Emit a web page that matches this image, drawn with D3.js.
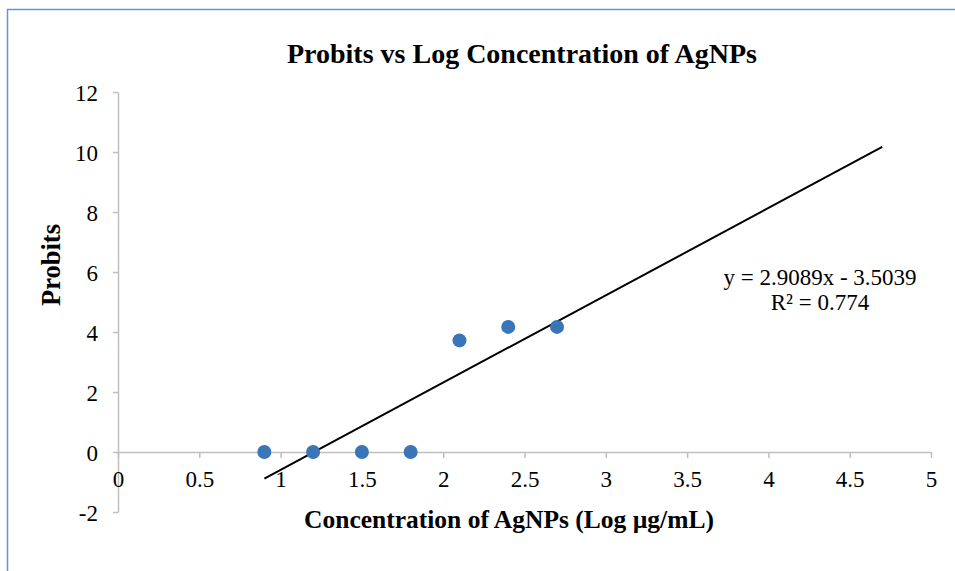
<!DOCTYPE html>
<html>
<head>
<meta charset="utf-8">
<script src="https://cdn.jsdelivr.net/npm/d3@7"></script>
<style>
  body { margin: 0; background: #fff; }
  svg { display: block; font-family: "Liberation Serif", "Times New Roman", serif; }
</style>
</head>
<body>
<svg id="chart" width="955" height="571"></svg>
<script>
// data
let logConc = [0.9, 1.2, 1.5, 1.8, 2.1, 2.4, 2.7];
let probits = [0, 0, 0, 0, 3.72, 4.17, 4.17];
let xTicks = [0, 0.5, 1, 1.5, 2, 2.5, 3, 3.5, 4, 4.5, 5];
let yTicks = [-2, 0, 2, 4, 6, 8, 10, 12];
// trendline from the printed equation, drawn over 0.9 .. 4.7
let slope = 2.9089, intercept = -3.5039;
let trendRange = [0.9, 4.7];

let svg = d3.select("#chart"),
    margin = {top: 92, right: 24, bottom: 59, left: 118},
    width = 955 - margin.left - margin.right,
    height = 571 - margin.top - margin.bottom;

let x = d3.scaleLinear().domain([0, 5]).range([0, width]),
    y = d3.scaleLinear().domain([-2, 12]).range([height, 0]);

let serif = "'Liberation Serif', 'Times New Roman', serif";

// outer frame (top + left edges visible)
svg.append("path")
  .attr("d", "M7.5,571 V9.5 H955")
  .attr("fill", "none")
  .attr("stroke", "#5b9bd5")
  .attr("stroke-width", 1.5);

let g = svg.append("g").attr("transform", "translate(" + margin.left + "," + margin.top + ")");

let gray = "#bfbfbf";

// y axis
let yAxis = g.append("g")
  .call(d3.axisLeft(y).tickValues(yTicks).tickSize(5).tickSizeOuter(0).tickFormat(d => String(d)))
  .attr("font-family", serif);
yAxis.select(".domain").attr("stroke", gray).attr("stroke-width", 1.5);
yAxis.selectAll(".tick line").attr("stroke", gray).attr("stroke-width", 1.5);
yAxis.selectAll(".tick text")
  .attr("x", -20)
  .attr("dy", "0.35em")
  .style("font-size", "23px")
  .attr("fill", "#000");

// x axis sits on y = 0
let xAxis = g.append("g")
  .attr("transform", "translate(0," + y(0) + ")")
  .call(d3.axisBottom(x).tickValues(xTicks).tickSize(6).tickSizeOuter(0).tickFormat(d => String(d)))
  .attr("font-family", serif);
xAxis.select(".domain").attr("stroke", gray).attr("stroke-width", 1.5);
xAxis.selectAll(".tick line").attr("stroke", gray).attr("stroke-width", 1.5);
xAxis.selectAll(".tick text")
  .attr("y", 19)
  .attr("dy", "0.71em")
  .style("font-size", "23px")
  .attr("fill", "#000");

// trendline
let line = d3.line()
  .x(d => x(d))
  .y(d => y(slope * d + intercept));

g.append("path")
  .datum(trendRange)
  .attr("d", line)
  .attr("fill", "none")
  .attr("stroke", "#000")
  .attr("stroke-width", 2);

// points
g.selectAll(".dot")
  .data(logConc.map((v, i) => ({x: v, y: probits[i]})))
  .enter()
  .append("circle")
  .attr("class", "dot")
  .attr("cx", d => x(d.x))
  .attr("cy", d => y(d.y))
  .attr("r", 7)
  .attr("fill", "#3a75b8");

// title
svg.append("text")
  .attr("x", 522)
  .attr("y", 63)
  .attr("text-anchor", "middle")
  .style("font-size", "28px")
  .style("font-weight", "bold")
  .text("Probits vs Log Concentration of AgNPs");

// axis titles
svg.append("text")
  .attr("x", 509)
  .attr("y", 528)
  .attr("text-anchor", "middle")
  .style("font-size", "25.5px")
  .style("font-weight", "bold")
  .text("Concentration of AgNPs (Log µg/mL)");

svg.append("text")
  .attr("transform", "translate(60,265) rotate(-90)")
  .attr("text-anchor", "middle")
  .style("font-size", "26.5px")
  .style("font-weight", "bold")
  .text("Probits");

// equation label
let eq = svg.append("text")
  .attr("text-anchor", "middle")
  .style("font-size", "23px");
eq.append("tspan").attr("x", 820).attr("y", 285).text("y = 2.9089x - 3.5039");
eq.append("tspan").attr("x", 820).attr("y", 310).text("R² = 0.774");
</script>
</body>
</html>
